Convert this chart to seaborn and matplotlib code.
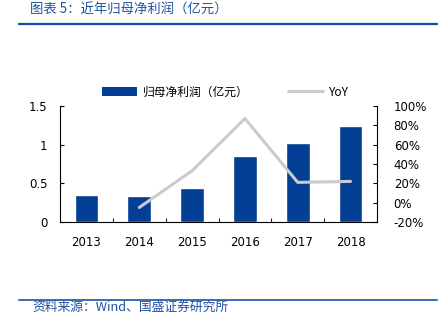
import matplotlib
matplotlib.use("Agg")
import matplotlib.pyplot as plt
import seaborn as sns
import pandas as pd
from matplotlib.lines import Line2D
from matplotlib.patches import Patch
from matplotlib.ticker import FixedLocator

years = ["2013", "2014", "2015", "2016", "2017", "2018"]
profit = [0.35, 0.33, 0.44, 0.85, 1.02, 1.24]
yoy = [None, -5, 33, 87, 21, 22]
left_ticks = [0, 0.5, 1, 1.5]
left_labels = ["0", "0.5", "1", "1.5"]
right_ticks = [-20, 0, 20, 40, 60, 80, 100]
right_labels = ["-20%", "0%", "20%", "40%", "60%", "80%", "100%"]

title = "图表 5：近年归母净利润（亿元）"
source = "资料来源：Wind、国盛证券研究所"
bar_label = "归母净利润（亿元）"
line_label = "YoY"

sns.set_theme(style="white")
plt.rcParams["font.family"] = ["DejaVu Sans"]
cjk = ["Noto Sans CJK SC", "DejaVu Sans"]

BLUE = "#033F94"
GRAY = "#CBCBCB"
HEAD = "#1F52A3"

df = pd.DataFrame({"year": years, "profit": profit, "yoy": yoy})

fig = plt.figure(figsize=(4.44, 3.28), dpi=100)
ax = fig.add_axes([60/444, 1-222/328, (377-60)/444, (222-106)/328])

sns.barplot(data=df, x="year", y="profit", color=BLUE, width=0.45,
            saturation=1, ax=ax)
ax.set_xlim(-0.5, 5.5)
ax.set_ylim(0, 1.5)
ax.set_yticks(left_ticks)
ax.set_yticklabels(left_labels)
ax.set_xlabel("")
ax.set_ylabel("")

ax2 = ax.twinx()
sub = df.dropna(subset=["yoy"])
sns.lineplot(x=[years.index(y) for y in sub["year"]], y=sub["yoy"].tolist(),
             color=GRAY, linewidth=2.2, ax=ax2)
ax2.set_ylim(-20, 100)
ax2.set_yticks(right_ticks)
ax2.set_yticklabels(right_labels)
ax2.set_ylabel("")

for a in (ax, ax2):
    for s in a.spines.values():
        s.set_color("black")
        s.set_linewidth(0.8)
    a.spines["top"].set_visible(False)
ax.spines["right"].set_visible(False)
ax2.spines["left"].set_visible(False)
ax2.spines["bottom"].set_visible(False)

ax.tick_params(axis="y", direction="in", length=3, width=0.8, pad=9,
               labelsize=8.5, colors="black", left=True)
ax.tick_params(axis="x", which="major", length=0, pad=10, labelsize=8.5,
               colors="black")
ax.xaxis.set_minor_locator(FixedLocator([0.5, 1.5, 2.5, 3.5, 4.5]))
ax.tick_params(axis="x", which="minor", direction="in", length=3, width=0.8,
               bottom=True)
ax2.tick_params(axis="y", direction="in", length=3, width=0.8, pad=12,
                labelsize=8.5, colors="black", right=True)

handles = [Patch(facecolor=BLUE, edgecolor="none", label=bar_label),
           Line2D([0], [0], color=GRAY, linewidth=2.2, label=line_label)]
leg = fig.legend(handles=handles, loc="center left",
                 bbox_to_anchor=(91/444, 1-92/328),
                 ncol=2, frameon=False, handlelength=3.0, handleheight=0.9,
                 columnspacing=3.3, handletextpad=0.5,
                 prop={"family": cjk, "size": 8.5})
for t in leg.get_texts():
    t.set_color("black")

fig.text(30/444, 1-10/328, title, ha="left", va="center", fontsize=9.6,
         color=HEAD, style="italic", family=cjk)
fig.add_artist(Line2D([19/444, 437/444], [1-24/328, 1-24/328],
                      color="#0E4CA1", linewidth=1.6))
fig.add_artist(Line2D([19/444, 437/444], [1-300/328, 1-300/328],
                      color="#2A5DAE", linewidth=1.3))
fig.text(32/444, 1-307/328, source, ha="left", va="center", fontsize=9.2,
         color=HEAD, style="italic", family=cjk)

fig.savefig("out.png", dpi=100)
